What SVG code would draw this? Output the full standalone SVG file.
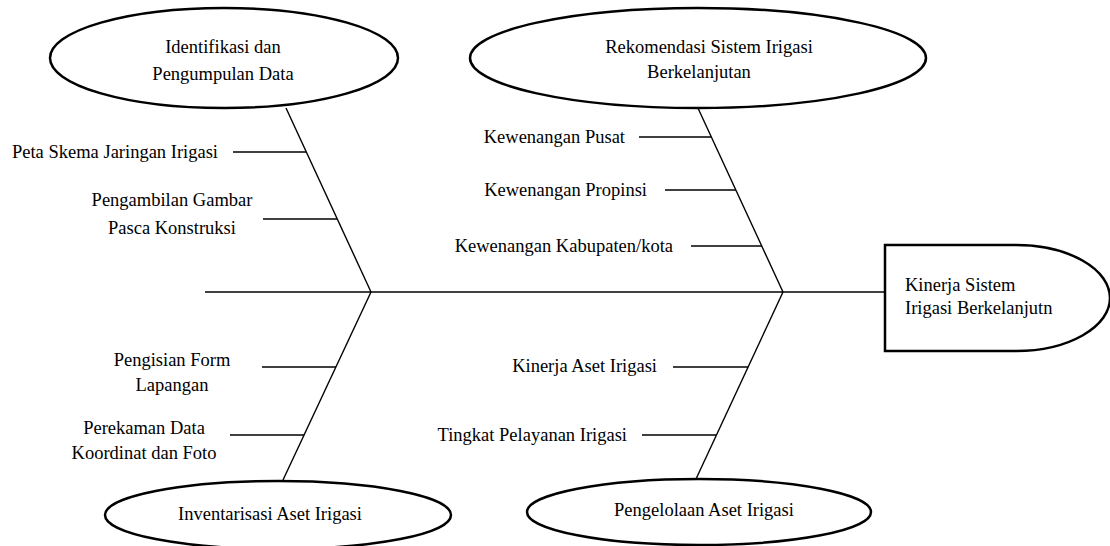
<svg xmlns="http://www.w3.org/2000/svg" width="1110" height="546" viewBox="0 0 1110 546">
<style>
.shape{fill:#fff;stroke:#000;stroke-width:2.5}
.ln{stroke:#000;stroke-width:1.4;fill:none}
text{font-family:"Liberation Serif","Times New Roman",serif;font-size:18.5px;fill:#000}
.m{text-anchor:middle}
.e{text-anchor:end}
</style>
<rect width="1110" height="546" fill="#fff"/>
<g id="connectors">
<line class="ln" x1="205" y1="292" x2="885" y2="292"/>
<line class="ln" x1="286" y1="108" x2="371" y2="292"/>
<line class="ln" x1="371" y1="292" x2="283" y2="480"/>
<line class="ln" x1="697" y1="106" x2="783" y2="292"/>
<line class="ln" x1="783" y1="292" x2="696" y2="479"/>
<line class="ln" x1="233" y1="152" x2="306" y2="152"/>
<line class="ln" x1="263" y1="219" x2="337" y2="219"/>
<line class="ln" x1="262" y1="367" x2="336" y2="367"/>
<line class="ln" x1="230" y1="435" x2="304" y2="435"/>
<line class="ln" x1="639" y1="137" x2="711" y2="137"/>
<line class="ln" x1="665" y1="190" x2="736" y2="190"/>
<line class="ln" x1="691" y1="246" x2="762" y2="246"/>
<line class="ln" x1="673" y1="367" x2="748" y2="367"/>
<line class="ln" x1="642" y1="435" x2="716" y2="435"/>
</g>
<g id="identifikasi">
<ellipse class="shape" cx="224" cy="58" rx="174" ry="50"/>
<text class="m" x="223" y="53">Identifikasi dan</text>
<text class="m" x="223" y="80">Pengumpulan Data</text>
</g>
<g id="rekomendasi">
<ellipse class="shape" cx="698" cy="58" rx="228" ry="50"/>
<text class="m" x="709" y="53">Rekomendasi Sistem Irigasi</text>
<text class="m" x="699" y="78">Berkelanjutan</text>
</g>
<g id="inventarisasi">
<ellipse class="shape" cx="278" cy="515" rx="173" ry="34"/>
<text class="m" x="270" y="520">Inventarisasi Aset Irigasi</text>
</g>
<g id="pengelolaan">
<ellipse class="shape" cx="699" cy="512" rx="172" ry="33"/>
<text class="m" x="704" y="516">Pengelolaan Aset Irigasi</text>
</g>
<g id="kinerja">
<path class="shape" d="M885,245 H1016 A94,53 0 0 1 1016,351 H885 Z"/>
<text x="905" y="291">Kinerja Sistem</text>
<text x="905" y="314">Irigasi Berkelanjutn</text>
</g>
<g id="labels">
<text class="e" x="218" y="158">Peta Skema Jaringan Irigasi</text>
<text class="m" x="172" y="206">Pengambilan Gambar</text>
<text class="m" x="172" y="234">Pasca Konstruksi</text>
<text class="m" x="172" y="366">Pengisian Form</text>
<text class="m" x="172" y="391">Lapangan</text>
<text class="m" x="144" y="434">Perekaman Data</text>
<text class="m" x="144" y="459">Koordinat dan Foto</text>
<text class="e" x="625" y="143">Kewenangan Pusat</text>
<text class="e" x="647" y="196">Kewenangan Propinsi</text>
<text class="e" x="673" y="252">Kewenangan Kabupaten/kota</text>
<text class="e" x="657" y="372">Kinerja Aset Irigasi</text>
<text class="e" x="627" y="441">Tingkat Pelayanan Irigasi</text>
</g>
</svg>
